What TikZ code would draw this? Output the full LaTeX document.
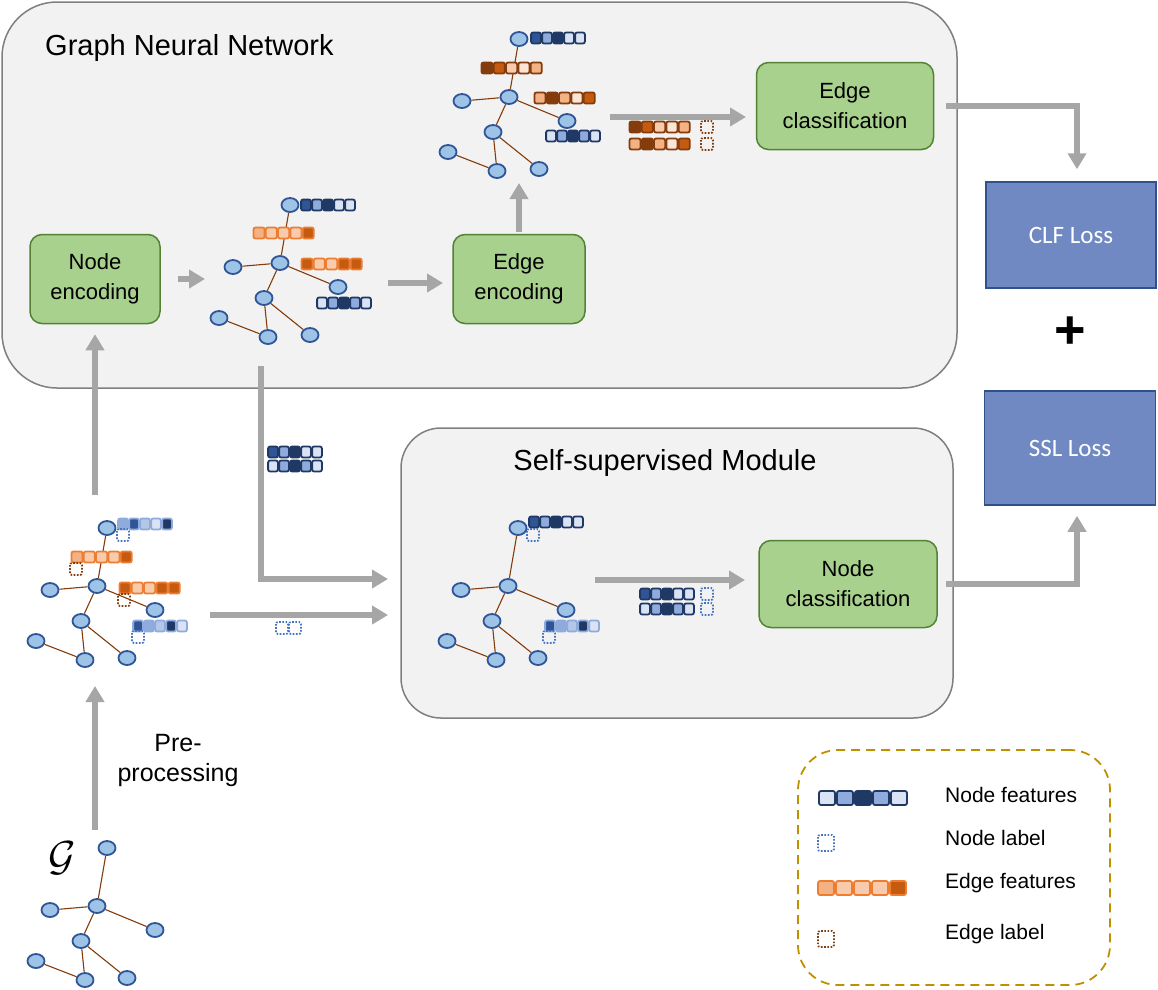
\documentclass[tikz,border=0pt]{standalone}
\usepackage{fontspec}
\setmainfont{Liberation Sans}
\newfontfamily\calibri{Carlito}
\usepackage{tikz}
\usetikzlibrary{arrows.meta,shapes.geometric}

\definecolor{panelgrey}{HTML}{F2F2F2}
\definecolor{panelline}{HTML}{7F7F7F}
\definecolor{greenfill}{HTML}{A9D18E}
\definecolor{greenline}{HTML}{548235}
\definecolor{lossfill}{HTML}{7189C2}
\definecolor{lossline}{HTML}{2F528F}
\definecolor{flowgrey}{HTML}{A6A6A6}
\definecolor{vertexfill}{HTML}{9DC3E6}
\definecolor{vertexline}{HTML}{2F5597}
\definecolor{linkbrown}{HTML}{843C0C}
\definecolor{legendline}{HTML}{BF9000}
\definecolor{nf0}{HTML}{DAE3F3}
\definecolor{nf1}{HTML}{B4C7E7}
\definecolor{nf2}{HTML}{8FAADC}
\definecolor{nf3}{HTML}{2F5597}
\definecolor{nf4}{HTML}{1F3864}
\definecolor{ef0}{HTML}{FBE5D6}
\definecolor{ef1}{HTML}{F8CBAD}
\definecolor{ef2}{HTML}{F4B183}
\definecolor{ef3}{HTML}{C55A11}
\definecolor{ef4}{HTML}{843C0C}
\definecolor{nodeline}{HTML}{203864}
\definecolor{nodelight}{HTML}{8FAADC}
\definecolor{edgeline}{HTML}{ED7D31}
\definecolor{edgedark}{HTML}{843C0C}
\definecolor{labelblue}{HTML}{4472C4}
\definecolor{labelbrown}{HTML}{843C0C}

\tikzstyle{panel}=[rectangle,draw=panelline,fill=panelgrey,line width=1.5pt]
\tikzstyle{title}=[font=\fontsize{29}{34}\selectfont,inner sep=0pt]
\tikzstyle{greenbox}=[rectangle,rounded corners=12pt,draw=greenline,fill=greenfill,
                      line width=1.5pt,align=center,font=\fontsize{22}{30}\selectfont]
\tikzstyle{lossbox}=[rectangle,draw=lossline,fill=lossfill,line width=1.5pt,
                     text=white,font=\calibri\fontsize{25}{30}\selectfont]
\tikzstyle{legendbox}=[rectangle,rounded corners=40pt,draw=legendline,line width=1.8pt,
                       dash pattern=on 9pt off 6pt]
\tikzstyle{legendtext}=[anchor=west,inner sep=0pt,font=\fontsize{21}{24}\selectfont]
\tikzstyle{flow}=[draw=flowgrey,line width=6pt,-{Triangle[width=18pt,length=16pt]}]
\tikzstyle{vertex}=[ellipse,draw=vertexline,fill=vertexfill,line width=1.8pt,
                    minimum width=17pt,minimum height=14pt,inner sep=0pt]
\tikzstyle{link}=[draw=linkbrown,line width=1.1pt]
\tikzstyle{cell}=[line width=1.8pt,rounded corners=2pt]
\tikzstyle{dotbox}=[line width=1.8pt,dash pattern=on 1.6pt off 1.6pt,rounded corners=2pt]

% one small tree, placed by its hub
\newcommand\graphtree[3]{%
  \node [vertex] (#1 hub) at (#2,#3) {};
  \node [vertex] (#1 top) at (#2+10,#3-58) {};
  \node [vertex] (#1 left) at (#2-47,#3+4) {};
  \node [vertex] (#1 right) at (#2+58,#3+24) {};
  \node [vertex] (#1 mid) at (#2-16,#3+35) {};
  \node [vertex] (#1 far) at (#2-61,#3+55) {};
  \node [vertex] (#1 low) at (#2-12,#3+74) {};
  \node [vertex] (#1 end) at (#2+30,#3+72) {};
  \draw [link] (#1 top) -- (#1 hub) -- (#1 left) (#1 hub) -- (#1 right)
               (#1 hub) -- (#1 mid) -- (#1 low) -- (#1 far) (#1 mid) -- (#1 end);
}
% feature vectors: first cell centre x, y, border, fills
\newcommand\featbar[5][11]{%
  \foreach \cellcol [count=\cellno from 0] in {#5}
    \filldraw [cell,draw=#4,fill=\cellcol]
      ({#2+\cellno*#1-(#1-1.2)/2},{#3-5.5}) rectangle ++({#1-1.2},11);
}
\newcommand\featbarr[5][18]{%
  \foreach \cellcol [count=\cellno from 0] in {#5}
    \filldraw [cell,draw=#4,fill=\cellcol]
      ({#2+\cellno*#1-(#1-2)/2},{#3-7}) rectangle ++({#1-2},14);
}
\newcommand\dotlabel[4][12]{%
  \draw [dotbox,draw=#4] ({#2-#1/2},{#3-#1/2}) rectangle ++(#1,#1);
}

\begin{document}
\begin{tikzpicture}[x=1pt,y=-1pt]
    \useasboundingbox (0,0) rectangle (1158,989);

    	\node [panel,rounded corners=55pt,minimum width=955pt,minimum height=386pt] (gnn) at (479.5,195) {};
    	\node [panel,rounded corners=40pt,minimum width=552pt,minimum height=290pt] (ssl) at (677,573) {};
    	\node [title,anchor=base west] (gnn title) at (45,55) {Graph Neural Network};
    	\node [title,anchor=base] (ssl title) at (665,470) {Self-supervised Module};

    	\node [greenbox,minimum width=130pt,minimum height=89pt] (node encoding) at (95,279) {Node\\encoding};
    	\node [greenbox,minimum width=132pt,minimum height=89pt] (edge encoding) at (519,279) {Edge\\encoding};
    	\node [greenbox,minimum width=177pt,minimum height=87pt] (edge classification) at (845,106) {Edge\\classification};
    	\node [greenbox,minimum width=178pt,minimum height=87pt] (node classification) at (848,584) {Node\\classification};

    	\node [lossbox,minimum width=170pt,minimum height=106pt] (clf loss) at (1071,235) {CLF Loss};
    	\node [lossbox,minimum width=171pt,minimum height=114pt] (ssl loss) at (1070,448) {SSL Loss};
    	\node [font=\fontsize{54}{54}\selectfont\bfseries] (plus) at (1070,333) {+};

    	\graphtree{raw}{97}{906}
    	\graphtree{pre}{97}{586}
    	\graphtree{enc}{280}{263}
    	\graphtree{edge}{509}{97}
    	\graphtree{self}{508}{586}

    	\node [scale=4.2] (graph symbol) at (62,858) {$\mathcal{G}$};
    	\node [align=center,font=\fontsize{25}{30}\selectfont] (pre label) at (178,760) {Pre-\\processing};

    	\coordinate (enc in) at (205,279);
    	\coordinate (enc out) at (388,283);
    	\coordinate (enc tip) at (443,283);
    	\coordinate (edge tip) at (519,183);
    	\coordinate (cls out) at (610,117);
    	\coordinate (cls tip) at (746,117);
    	\coordinate (pre top) at (95,495);
    	\coordinate (raw top) at (95,830);
    	\coordinate (pre bottom) at (95,686);
    	\coordinate (enc drop) at (261,366);
    	\coordinate (ssl in high) at (388,579);
    	\coordinate (pre out) at (210,615);
    	\coordinate (ssl in low) at (388,615);
    	\coordinate (self out) at (595,580);
    	\coordinate (self tip) at (745,580);

    	\draw [flow] ([xshift=17pt]node encoding.east) -- (enc in);
    	\draw [flow] (enc out) -- (enc tip);
    	\draw [flow] ([yshift=2pt]edge encoding.north) -- (edge tip);
    	\draw [flow] (cls out) -- (cls tip);
    	\draw [flow] ([xshift=12pt]edge classification.east) -| ([xshift=6pt,yshift=12pt]clf loss.north);
    	\draw [flow] ([xshift=8pt]node classification.east) -| ([xshift=7pt,yshift=-10pt]ssl loss.south);
    	\draw [flow] (pre top) -- ([yshift=-10pt]node encoding.south);
    	\draw [flow] (raw top) -- (pre bottom);
    	\draw [flow] (enc drop) |- (ssl in high);
    	\draw [flow] (pre out) -- (ssl in low);
    	\draw [flow] (self out) -- (self tip);

    	% edge graph
    	\featbar{536}{38}{nodeline}{nf3,nf2,nf4,nf0,nf0}
    	\featbar[12.3]{487}{68}{edgedark}{ef4,ef3,ef1,ef0,ef2}
    	\featbar[12.3]{540}{98}{edgedark}{ef2,ef4,ef2,ef0,ef3}
    	\featbar{551}{136}{nodeline}{nf0,nf2,nf4,nf2,nf0}
    	\featbar[12.3]{635}{127}{edgedark}{ef4,ef3,ef1,ef0,ef2}
    	\featbar[12.3]{635}{144}{edgedark}{ef2,ef4,ef2,ef0,ef3}
    	\dotlabel{707}{127}{labelbrown}
    	\dotlabel{707}{144}{labelbrown}

    	% encoded graph
    	\featbar{306}{205}{nodeline}{nf3,nf2,nf4,nf0,nf0}
    	\featbar[12.3]{259}{233}{edgeline}{ef2,ef1,ef1,ef1,ef3}
    	\featbar[12.3]{307}{264}{edgeline}{ef3,ef1,ef1,ef3,ef3}
    	\featbar{322}{303}{nodeline}{nf0,nf2,nf4,nf2,nf0}
    	\featbar{273}{452}{nodeline}{nf3,nf2,nf4,nf0,nf0}
    	\featbar{273}{466}{nodeline}{nf0,nf2,nf4,nf2,nf0}

    	% pre-processed graph
    	\featbar{123}{524}{nodelight}{nf2,nf3,nf1,nf0,nf4}
    	\featbar[12.3]{77}{557}{edgeline}{ef2,ef1,ef1,ef1,ef3}
    	\featbar[12.3]{125}{588}{edgeline}{ef3,ef1,ef1,ef3,ef3}
    	\featbar{138}{626}{nodelight}{nf3,nf2,nf1,nf4,nf0}
    	\dotlabel{123}{535}{labelblue}
    	\dotlabel{76}{569}{labelbrown}
    	\dotlabel{124}{600}{labelbrown}
    	\dotlabel{138}{637}{labelblue}
    	\dotlabel{282}{628}{labelblue}
    	\dotlabel{295}{628}{labelblue}

    	% self-supervised graph
    	\featbar{534}{522}{nodeline}{nf3,nf2,nf4,nf0,nf0}
    	\featbar{550}{626}{nodelight}{nf3,nf2,nf1,nf4,nf0}
    	\dotlabel{533}{535}{labelblue}
    	\dotlabel{549}{637}{labelblue}
    	\featbar{645}{594}{nodeline}{nf3,nf2,nf4,nf0,nf0}
    	\featbar{645}{609}{nodeline}{nf0,nf2,nf4,nf2,nf0}
    	\dotlabel{707}{594}{labelblue}
    	\dotlabel{707}{609}{labelblue}

    	% legend
    	\node [legendbox,minimum width=312pt,minimum height=235pt] (legend) at (954,867.5) {};
    	\featbarr{827}{798}{nodeline}{nf0,nf2,nf4,nf2,nf0}
    	\dotlabel[16]{826}{843}{labelblue}
    	\featbarr{826}{888}{edgeline}{ef2,ef1,ef1,ef1,ef3}
    	\dotlabel[16]{826}{939}{labelbrown}
    	\node [legendtext] (node features) at (945,795) {Node features};
    	\node [legendtext] (node label) at (945,838) {Node label};
    	\node [legendtext] (edge features) at (945,883) {Edge features};
    	\node [legendtext] (edge label) at (945,934) {Edge label};
    \end{tikzpicture}
\end{document}
